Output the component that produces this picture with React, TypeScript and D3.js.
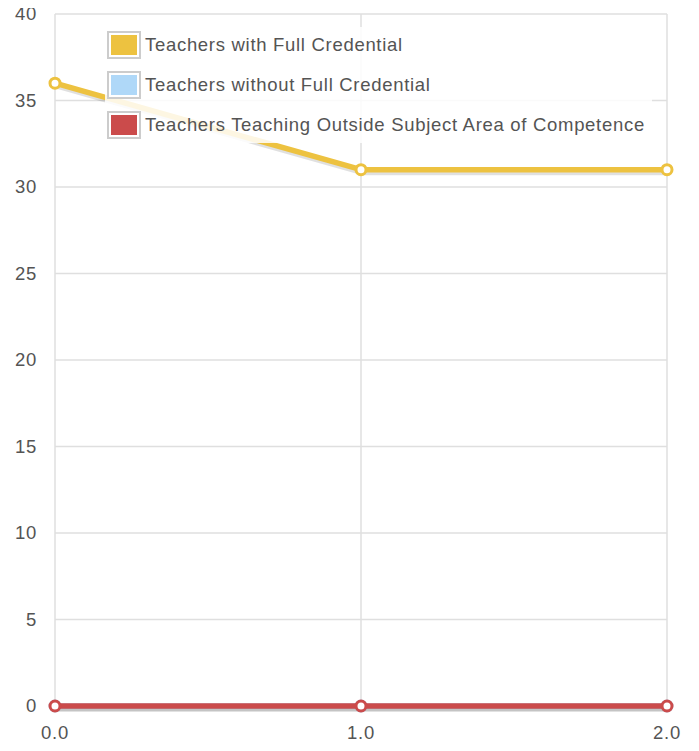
import React, { useEffect, useRef } from "react";
import * as d3 from "d3";

const xValues = [0, 1, 2];
const seriesNames = [
  "Teachers with Full Credential",
  "Teachers without Full Credential",
  "Teachers Teaching Outside Subject Area of Competence",
];
const withFull = [36, 31, 31];
const withoutFull = [0, 0, 0];
const outsideArea = [0, 0, 0];
const colors = ["#edc240", "#afd8f8", "#cb4b4b"];
const yTicks = [0, 5, 10, 15, 20, 25, 30, 35, 40];
const xTicks = [0, 1, 2];

const width = 699;
const height = 751;

export default function App() {
  const ref = useRef<SVGSVGElement | null>(null);

  useEffect(() => {
    const svg = d3.select(ref.current);
    svg.selectAll("*").remove();

    const margin = { top: 14, right: 32, bottom: 45, left: 55 };
    const font = "'Liberation Sans', Arial, sans-serif";

    const x = d3
      .scaleLinear()
      .domain([0, 2])
      .range([margin.left, width - margin.right]);
    const y = d3
      .scaleLinear()
      .domain([0, 40])
      .range([height - margin.bottom, margin.top]);

    // grid
    const grid = svg.append("g").attr("stroke", "#dfdfdf").attr("stroke-width", 1.5);
    yTicks.forEach((t) => {
      grid
        .append("line")
        .attr("x1", x(0))
        .attr("x2", x(2))
        .attr("y1", y(t))
        .attr("y2", y(t));
    });
    xTicks.forEach((t) => {
      grid
        .append("line")
        .attr("x1", x(t))
        .attr("x2", x(t))
        .attr("y1", y(0))
        .attr("y2", y(40));
    });

    const textStyle = (sel: any) =>
      sel
        .attr("font-family", font)
        .attr("font-size", 18.5)
        .attr("letter-spacing", 0.7)
        .attr("fill", "#545454");

    // tick labels
    svg
      .append("g")
      .selectAll("text")
      .data(yTicks)
      .join("text")
      .attr("x", 37)
      .attr("y", (d) => y(d))
      .attr("dy", "0.35em")
      .attr("text-anchor", "end")
      .call(textStyle)
      .text((d) => d);

    svg
      .append("g")
      .selectAll("text")
      .data(xTicks)
      .join("text")
      .attr("x", (d) => x(d))
      .attr("y", 733)
      .attr("dy", "0.35em")
      .attr("text-anchor", "middle")
      .call(textStyle)
      .text((d) => d3.format(".1f")(d));

    const series = [withFull, withoutFull, outsideArea];
    const line = d3
      .line<number>()
      .x((_, i) => x(xValues[i]))
      .y((d) => y(d));

    series.forEach((vals, si) => {
      // shadow
      svg
        .append("path")
        .datum(vals)
        .attr("fill", "none")
        .attr("stroke", "rgba(0,0,0,0.12)")
        .attr("stroke-width", 5)
        .attr("transform", "translate(1.5,3)")
        .attr("d", line);
      svg
        .append("path")
        .datum(vals)
        .attr("fill", "none")
        .attr("stroke", colors[si])
        .attr("stroke-width", 5.5)
        .attr("stroke-linejoin", "round")
        .attr("d", line);
      svg
        .append("g")
        .selectAll("circle")
        .data(vals)
        .join("circle")
        .attr("cx", (_, i) => x(xValues[i]))
        .attr("cy", (d) => y(d))
        .attr("r", 5)
        .attr("fill", "#fff")
        .attr("stroke", colors[si])
        .attr("stroke-width", 3);
    });

    // legend
    const lg = svg.append("g");
    lg.append("rect")
      .attr("x", 105)
      .attr("y", 27)
      .attr("width", 547)
      .attr("height", 116)
      .attr("fill", "#fff")
      .attr("opacity", 0.85);
    seriesNames.forEach((name, i) => {
      const cy = 45 + i * 40;
      lg.append("rect")
        .attr("x", 108)
        .attr("y", cy - 13)
        .attr("width", 32)
        .attr("height", 26)
        .attr("fill", "#fff")
        .attr("stroke", "#ccc")
        .attr("stroke-width", 2);
      lg.append("rect")
        .attr("x", 111)
        .attr("y", cy - 10)
        .attr("width", 26)
        .attr("height", 20)
        .attr("fill", colors[i]);
      lg.append("text")
        .attr("x", 145)
        .attr("y", cy)
        .attr("dy", "0.35em")
        .call(textStyle)
        .text(name);
    });
  }, []);

  return <svg ref={ref} width={width} height={height} style={{ display: "block", margin: -8 }} />;
}
